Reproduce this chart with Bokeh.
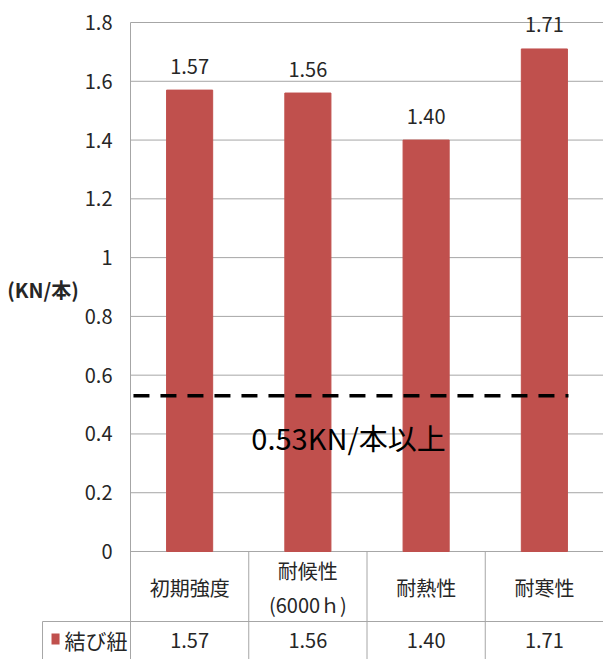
from bokeh.plotting import figure
from bokeh.models import Range1d, ColumnDataSource, LabelSet, Label
from bokeh.core.properties import value
from bokeh.embed import file_html
from bokeh.resources import INLINE

# ---- data -------------------------------------------------------------
categories = ["初期強度", "耐候性\n(6000ｈ)", "耐熱性", "耐寒性"]
strength = [1.57, 1.56, 1.40, 1.71]          # KN per piece
series_name = "結び紐"
threshold = 0.53
threshold_label = "0.53KN/本以上"
y_ticks = [0, 0.2, 0.4, 0.6, 0.8, 1, 1.2, 1.4, 1.6, 1.8]
y_tick_labels = ["0", "0.2", "0.4", "0.6", "0.8", "1", "1.2", "1.4", "1.6", "1.8"]
y_unit = "(KN/本)"

# ---- style --------------------------------------------------------------
BAR = "#C0504D"
RULE = "#A6A6A6"
INK = "#262626"
FONT = "Noto Sans CJK JP"

n = len(categories)
x_centers = [i + 0.5 for i in range(n)]
value_text = [f"{v:.2f}" for v in strength]
y_top = max(y_ticks)

# the drawing area also hosts the value scale labels and the data table,
# so the ranges reach left of the first category and below zero
X_LEFT = -1.0994
Y_BOTTOM = -0.3675
Y_TOP = 1.8749
ROW_SPLIT = -0.2382        # line between category row and value row
HEAD_ROW = -0.1225
VALUE_ROW = -0.3028
KEY_LEFT = -0.744          # left border of the series-name cell
TICK_X = -0.152            # right edge of the scale labels

p = figure(width=603, height=659, output_backend="svg", toolbar_location=None,
           x_range=Range1d(X_LEFT, n), y_range=Range1d(Y_BOTTOM, Y_TOP),
           x_axis_location=None, y_axis_location=None, min_border=0)
p.outline_line_color = None
p.xgrid.grid_line_color = None
p.ygrid.grid_line_color = None
p.background_fill_color = "white"
p.border_fill_color = "white"

# horizontal grid lines across the category area
p.segment(x0=0, y0=y_ticks, x1=n, y1=y_ticks, line_color=RULE, line_width=1)

# value scale labels
p.text(x=TICK_X, y=y_ticks, text=y_tick_labels,
       text_align="right", text_baseline="middle",
       text_font=value(FONT), text_font_size="20px", text_color=INK)

# left axis line, continuing as the border of the table
p.segment(x0=0, y0=y_top, x1=0, y1=Y_BOTTOM, line_color=RULE, line_width=1)

# bars
p.vbar(x=x_centers, top=strength, width=0.39, bottom=0,
       fill_color=BAR, line_color=BAR)

# value labels above the bars
src = ColumnDataSource(dict(x=x_centers, y=strength, t=value_text))
p.add_layout(LabelSet(x="x", y="y", text="t", source=src, y_offset=24,
                      text_align="center", text_baseline="middle",
                      text_font=value(FONT), text_font_size="20px",
                      text_color=INK))

# requirement line
p.segment(x0=0.025, y0=threshold, x1=3.704, y1=threshold,
          line_color="black", line_width=3.5, line_dash="16 11")
p.add_layout(Label(x=1.844, y=0.388, text=threshold_label,
                   text_align="center", text_baseline="middle",
                   text_font=FONT, text_font_size="29px", text_color="black"))

# unit caption
p.add_layout(Label(x=-0.74, y=0.891, text=y_unit,
                   text_align="center", text_baseline="middle",
                   text_font=FONT, text_font_size="20px",
                   text_font_style="bold", text_color=INK))

# data table: grid lines
p.segment(x0=list(range(1, n)), y0=0, x1=list(range(1, n)), y1=Y_BOTTOM,
          line_color=RULE, line_width=1)
p.segment(x0=KEY_LEFT, y0=ROW_SPLIT, x1=n, y1=ROW_SPLIT,
          line_color=RULE, line_width=1)
p.segment(x0=KEY_LEFT, y0=ROW_SPLIT, x1=KEY_LEFT, y1=Y_BOTTOM,
          line_color=RULE, line_width=1)

# data table: category names and values
p.text(x=x_centers, y=[HEAD_ROW] * n, text=categories,
       text_align="center", text_baseline="middle",
       text_font=value(FONT), text_font_size="20px", text_color=INK,
       text_line_height=1.2)
p.text(x=x_centers, y=[VALUE_ROW] * n, text=value_text,
       text_align="center", text_baseline="middle",
       text_font=value(FONT), text_font_size="20px", text_color=INK)

# series key of the value row
p.quad(left=-0.668, right=-0.600, top=-0.279, bottom=-0.3164,
       fill_color=BAR, line_color=None)
p.text(x=-0.292, y=VALUE_ROW, text=[series_name],
       text_align="center", text_baseline="middle",
       text_font=value(FONT), text_font_size="21px", text_color=INK)

open("out.html", "w").write(file_html(p, INLINE))
